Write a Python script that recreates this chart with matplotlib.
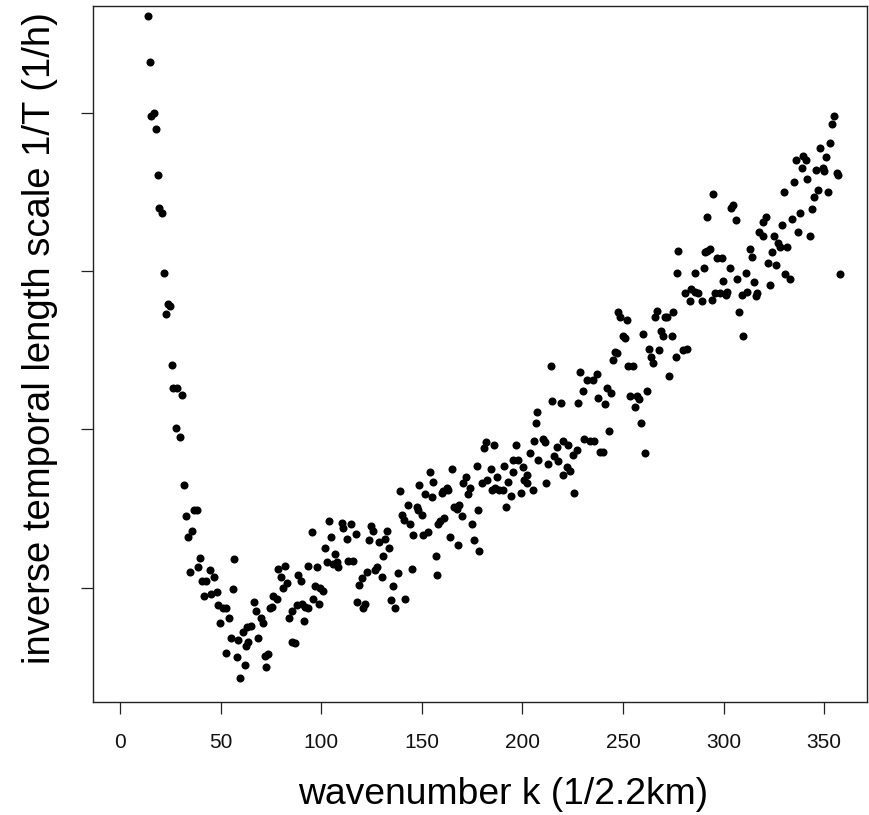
import matplotlib
matplotlib.use("Agg")
import matplotlib.pyplot as plt

# wavenumber k and inverse temporal length scale 1/T
k = [
    13.6, 14.6, 15.4, 16.6, 17.9, 18.7, 19.4, 20.7, 21.9, 22.7, 23.6, 24.9,
    25.6, 26.4, 28.3, 30.8, 27.7, 29.7, 31.8, 32.7, 36.7, 38.3, 35.8, 33.8,
    39.6, 56.7, 38.5, 34.7, 44.6, 46.7, 40.5, 42.6, 55.9, 41.8, 44.9, 47.9,
    48.7, 51.2, 52.6, 66.5, 67.5, 69.8, 70.8, 53.9, 49.6, 65.0, 63.2, 60.9,
    54.9, 58.7, 68.6, 63.7, 62.5, 52.4, 57.9, 72.0, 73.6, 72.5, 62.0, 59.5,
    103.8, 110.4, 114.7, 95.2, 104.6, 110.9, 112.6, 117.1, 124.7, 125.8, 132.5,
    123.8, 128.8, 131.6, 101.8, 106.8, 133.5, 130.8, 102.6, 105.9, 108.4, 107.6,
    113.4, 115.9, 93.5, 98.0, 81.9, 78.6, 79.8, 88.5, 89.7, 82.8, 80.8, 127.5,
    126.7, 122.5, 120.0, 118.9, 130.0, 96.8, 99.3, 101.0, 76.1, 77.8, 75.3,
    74.4, 95.7, 98.8, 87.7, 90.2, 91.9, 93.2, 117.6, 121.7, 120.8, 134.5, 85.2,
    84.0, 91.6, 85.5, 86.9, 135.5, 141.6, 136.6,
    207.1, 206.7, 181.9, 180.9, 186.0, 196.8, 205.7, 203.7, 207.9, 195.4, 197.9,
    177.2, 164.8, 184.2, 190.8, 200.1, 195.1, 154.0, 171.9, 182.5, 187.5, 202.1,
    200.8, 155.7, 148.7, 170.6, 173.9, 179.7, 193.0, 202.4, 186.3, 184.7, 188.5,
    190.2, 162.3, 160.6, 163.1, 205.1, 139.1, 151.5, 154.9, 159.8, 173.1, 199.1,
    194.1, 191.8, 143.2, 147.4, 147.9, 149.9, 168.6, 165.9, 167.6, 177.7, 139.9,
    141.1, 144.1, 161.1, 159.0, 158.1, 169.8, 174.8, 145.7, 153.2, 150.7, 164.0,
    175.9, 167.8, 157.0, 178.5, 138.3, 144.9, 157.6,
    277.5, 277.0, 247.7, 248.5, 252.1, 266.8, 265.9, 270.9, 272.0, 275.0, 250.1,
    251.0, 260.1, 268.7, 270.0, 274.2, 263.1, 268.0, 246.0, 247.2, 244.9, 263.8,
    265.1, 276.2, 252.6, 255.1, 214.0, 228.6, 236.9, 232.2, 235.2, 273.0, 241.9,
    243.9, 230.0, 261.8, 253.5, 256.8, 258.1, 237.7, 241.0, 214.5, 219.0, 227.8,
    256.0, 258.9, 243.0, 210.4, 211.2, 220.0, 222.8, 217.0, 230.6, 233.6, 235.5,
    227.0, 225.0, 238.6, 240.2, 260.9, 212.8, 215.7, 217.8, 222.0, 223.6, 220.3,
    211.7, 225.8,
    354.9, 354.1, 352.9, 348.0, 339.7, 336.0, 341.0, 350.9, 338.9, 346.0, 349.3,
    350.0, 356.3, 357.1, 341.6, 335.0, 346.8, 345.0, 352.1, 330.1, 294.9, 304.5,
    303.5, 343.8, 338.0, 333.9, 291.9, 321.1, 319.5, 306.2, 329.1, 336.9, 343.0,
    317.8, 319.8, 325.1, 327.2, 328.1, 331.7, 313.2, 291.6, 293.3, 290.8, 323.9,
    314.0, 296.6, 299.1, 322.0, 326.1, 303.2, 290.3, 285.8, 311.2, 306.8, 299.9,
    330.6, 333.0, 357.9, 315.1, 323.1, 283.7, 286.0, 287.4, 280.8, 295.7, 298.2,
    301.9, 301.2, 311.8, 309.0, 316.8, 316.1, 283.3, 289.1, 294.1, 307.8, 309.8,
    281.7, 280.0,
]
inv_T = [
    0.461, 0.432, 0.398, 0.400, 0.390, 0.361, 0.340, 0.337, 0.299, 0.273, 0.279, 0.278,
    0.241, 0.226, 0.226, 0.222, 0.201, 0.195, 0.165, 0.145, 0.149, 0.149, 0.136, 0.132,
    0.119, 0.118, 0.113, 0.110, 0.111, 0.107, 0.104, 0.104, 0.099, 0.095, 0.096, 0.097,
    0.089, 0.087, 0.087, 0.091, 0.085, 0.081, 0.078, 0.081, 0.078, 0.076, 0.075, 0.072,
    0.068, 0.067, 0.068, 0.066, 0.063, 0.059, 0.056, 0.057, 0.058, 0.050, 0.051, 0.043,
    0.142, 0.141, 0.140, 0.135, 0.132, 0.138, 0.131, 0.134, 0.139, 0.136, 0.136,
    0.130, 0.129, 0.131, 0.125, 0.121, 0.125, 0.120, 0.116, 0.115, 0.113, 0.116,
    0.117, 0.117, 0.114, 0.113, 0.114, 0.112, 0.107, 0.108, 0.104, 0.103, 0.100, 0.113,
    0.111, 0.110, 0.106, 0.102, 0.107, 0.101, 0.100, 0.098, 0.095, 0.093, 0.088,
    0.087, 0.093, 0.090, 0.089, 0.090, 0.088, 0.087, 0.091, 0.090, 0.087, 0.092, 0.085,
    0.081, 0.079, 0.066, 0.065, 0.101, 0.093, 0.087,
    0.211, 0.204, 0.192, 0.188, 0.190, 0.190, 0.193, 0.185, 0.181, 0.181, 0.181,
    0.177, 0.175, 0.175, 0.177, 0.176, 0.173, 0.173, 0.170, 0.168, 0.170, 0.171,
    0.168, 0.167, 0.165, 0.166, 0.163, 0.166, 0.167, 0.166, 0.163, 0.162, 0.162,
    0.162, 0.163, 0.161, 0.162, 0.162, 0.161, 0.159, 0.157, 0.160, 0.159, 0.160,
    0.158, 0.151, 0.152, 0.151, 0.149, 0.146, 0.152, 0.151, 0.150, 0.149, 0.146,
    0.143, 0.140, 0.144, 0.142, 0.140, 0.145, 0.140, 0.133, 0.135, 0.133, 0.132,
    0.130, 0.127, 0.120, 0.123, 0.109, 0.112, 0.108,
    0.313, 0.299, 0.274, 0.271, 0.269, 0.275, 0.271, 0.271, 0.271, 0.274, 0.259,
    0.258, 0.260, 0.262, 0.259, 0.259, 0.251, 0.250, 0.249, 0.248, 0.244, 0.246,
    0.242, 0.246, 0.240, 0.240, 0.240, 0.236, 0.235, 0.231, 0.231, 0.234, 0.226,
    0.223, 0.224, 0.224, 0.221, 0.221, 0.219, 0.220, 0.216, 0.218, 0.217, 0.217,
    0.214, 0.204, 0.199, 0.194, 0.192, 0.193, 0.190, 0.189, 0.194, 0.193, 0.193,
    0.187, 0.184, 0.186, 0.186, 0.185, 0.178, 0.183, 0.180, 0.176, 0.174, 0.171,
    0.166, 0.160,
    0.398, 0.393, 0.381, 0.378, 0.373, 0.370, 0.370, 0.372, 0.365, 0.364, 0.365,
    0.363, 0.362, 0.361, 0.358, 0.356, 0.351, 0.347, 0.350, 0.350, 0.349, 0.342,
    0.340, 0.339, 0.337, 0.333, 0.334, 0.334, 0.331, 0.332, 0.329, 0.325, 0.322,
    0.325, 0.322, 0.322, 0.318, 0.315, 0.315, 0.314, 0.313, 0.314, 0.312, 0.312,
    0.309, 0.308, 0.308, 0.305, 0.304, 0.302, 0.302, 0.299, 0.299, 0.295, 0.294,
    0.298, 0.295, 0.298, 0.293, 0.291, 0.289, 0.287, 0.286, 0.286, 0.286, 0.286,
    0.287, 0.285, 0.287, 0.285, 0.286, 0.284, 0.281, 0.281, 0.282, 0.274, 0.259,
    0.251, 0.250,
]

x_ticks = [0, 50, 100, 150, 200, 250, 300, 350]
y_ticks = [0.1, 0.2, 0.3, 0.4]

plt.rcParams['font.family'] = ['Liberation Sans', 'DejaVu Sans']

fig = plt.figure(figsize=(8.69, 8.15), dpi=100)
ax = fig.add_axes([92.5 / 869, 1 - 702 / 815, (867.3 - 92.5) / 869, (702 - 6) / 815])

ax.plot(k, inv_T, linestyle='none', marker='o', markersize=5.8,
        markerfacecolor='black', markeredgewidth=0, color='black', clip_on=True)

ax.set_xlim(-13.8, 371.5)
ax.set_ylim(0.0278, 0.4675)
ax.set_xticks(x_ticks)
ax.set_xticklabels([str(t) for t in x_ticks])
ax.set_yticks(y_ticks)
ax.set_yticklabels([])
ax.tick_params(axis='both', direction='out', length=8.6, width=0.9, color='#222222')
ax.tick_params(axis='x', labelsize=15, pad=14, labelcolor='#111111')
for s in ax.spines.values():
    s.set_linewidth(1.0)
    s.set_color('#222222')

fig.text(503 / 869, 1 - 794 / 815, 'wavenumber k (1/2.2km)',
         ha='center', va='center', fontsize=26.8)
fig.text(40 / 869, 1 - 338 / 815, 'inverse temporal length scale 1/T (1/h)',
         ha='center', va='center', rotation=90, fontsize=27.5)

fig.savefig('out.png', dpi=100)
